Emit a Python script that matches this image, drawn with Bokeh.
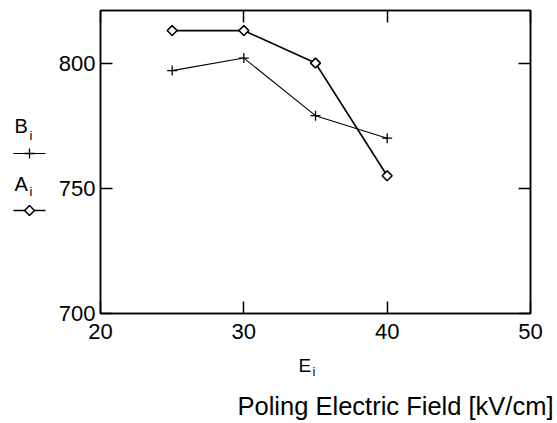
from math import pi
from bokeh.plotting import figure
from bokeh.layouts import row, column
from bokeh.models import Range1d, LinearAxis, FixedTicker
from bokeh.core.properties import value
from bokeh.embed import file_html
from bokeh.resources import INLINE

# ---- data ----
field = [25, 30, 35, 40]           # poling electric field E_i [kV/cm]
A_i = [813, 813, 800, 755]
B_i = [797, 802, 779, 770]
x_ticks = [20, 30, 40, 50]
y_ticks = [700, 750, 800]

FONT = value("Liberation Sans")
TOTAL_H = 420
LEFT_W = 54
RIGHT_W = 501
MAIN_H = 350
FULL_W = LEFT_W + RIGHT_W
TOP_B, BOT_B = 10, 37          # frame borders of the main plot
DY = 7                         # text baseline correction

# ---------------- main plot ----------------
p = figure(width=RIGHT_W, height=MAIN_H, x_range=Range1d(20, 50), y_range=Range1d(700, 821),
           output_backend="svg", toolbar_location=None,
           min_border_left=46, min_border_right=25, min_border_top=TOP_B, min_border_bottom=BOT_B,
           background_fill_color="white", border_fill_color="white")
p.grid.visible = False
p.outline_line_color = "black"
p.outline_line_width = 1.5


def style_axis(ax, ticks, labels=True):
    ax.ticker = FixedTicker(ticks=ticks)
    ax.major_tick_in = 12
    ax.major_tick_out = 0
    ax.minor_tick_line_color = None
    ax.axis_line_color = "black"
    ax.axis_line_width = 1.5
    ax.major_tick_line_color = "black"
    ax.major_tick_line_width = 1.5
    if labels:
        ax.major_label_text_font = "Liberation Sans"
        ax.major_label_text_font_size = "22px"
        ax.major_label_text_color = "black"
    else:
        ax.major_label_overrides = {t: "" for t in ticks}
        ax.major_label_standoff = 0


style_axis(p.xaxis[0], x_ticks)
p.xaxis[0].major_label_standoff = 10
style_axis(p.yaxis[0], y_ticks)
p.yaxis[0].major_label_standoff = 5

top = LinearAxis()
style_axis(top, x_ticks, labels=False)
p.add_layout(top, "above")
right = LinearAxis()
style_axis(right, y_ticks, labels=False)
p.add_layout(right, "right")

p.line(field, B_i, line_color="black", line_width=1.1)
p.scatter(field, B_i, marker="cross", size=10, line_color="black", line_width=1.3)
p.line(field, A_i, line_color="black", line_width=1.7)
p.scatter(field, A_i, marker="square", angle=pi / 4, size=7, line_color="black",
          line_width=1.6, fill_color="white")

# ---------------- left key (pixel coordinates, y down; frame aligned with main plot) ----------------
k = figure(width=LEFT_W, height=MAIN_H, x_range=Range1d(0, LEFT_W),
           y_range=Range1d(MAIN_H - BOT_B, TOP_B),
           output_backend="svg", toolbar_location=None,
           min_border_left=0, min_border_right=0, min_border_top=TOP_B, min_border_bottom=BOT_B,
           x_axis_location=None, y_axis_location=None,
           background_fill_color="white", border_fill_color="white")
k.grid.visible = False
k.outline_line_color = None

k.text(x=[14, 14], y=[132 - DY, 190 - DY], text=["B", "A"], text_font=FONT,
       text_font_size="20px", text_color="black", text_baseline="alphabetic", text_align="left")
k.text(x=[29, 29], y=[142 - DY, 198 - DY], text=["i", "i"], text_font=FONT,
       text_font_size="13px", text_color="black", text_baseline="alphabetic", text_align="left")
k.line([13, 45], [153, 153], line_color="black", line_width=1.1)
k.scatter([29], [153], marker="cross", size=10, line_color="black", line_width=1.3)
k.line([13, 45], [210, 210], line_color="black", line_width=1.7)
k.scatter([29], [210], marker="square", angle=pi / 4, size=7, line_color="black",
          line_width=1.6, fill_color="white")

# ---------------- bottom texts (pixel coordinates, y down) ----------------
b = figure(width=FULL_W, height=TOTAL_H - MAIN_H, x_range=Range1d(0, FULL_W),
           y_range=Range1d(TOTAL_H, MAIN_H),
           output_backend="svg", toolbar_location=None, min_border=0,
           x_axis_location=None, y_axis_location=None,
           background_fill_color="white", border_fill_color="white")
b.grid.visible = False
b.outline_line_color = None
b.text(x=[298], y=[372 - DY], text=["E"], text_font=FONT, text_font_size="19px",
       text_color="black", text_baseline="alphabetic", text_align="left")
b.text(x=[312], y=[378 - DY], text=["i"], text_font=FONT, text_font_size="13px",
       text_color="black", text_baseline="alphabetic", text_align="left")
b.text(x=[553], y=[412 - DY], text=["Poling Electric Field [kV/cm]"], text_font=FONT,
       text_font_size="25.5px", text_color="black", text_baseline="alphabetic",
       text_align="right")

layout = column(row(k, p, spacing=0), b, spacing=0)
open("out.html", "w").write(file_html(layout, INLINE))
